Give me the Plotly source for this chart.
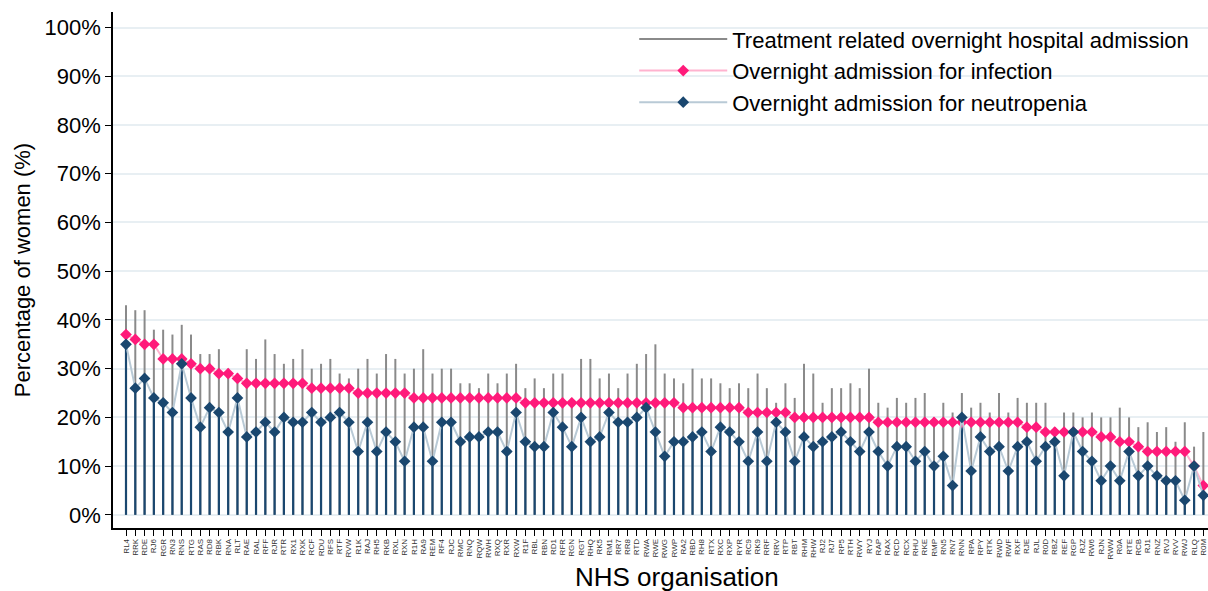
import plotly.graph_objects as go

organisations = [
    "RL4", "RRK", "RDE", "RJ6", "RGR", "RN3", "RNS", "RTG", "RAS", "RD8",
    "RBK", "RNA", "RLT", "RAE", "RAL", "RFF", "RJR", "RTR", "RX1", "RXK",
    "RCF", "RDU", "RFS", "RTF", "RVW", "R1K", "RAJ", "RH5", "RKB", "RXL",
    "RXN", "R1H", "RA9", "REM", "RF4", "RJC", "RMC", "RNQ", "RQW", "RWH",
    "RXQ", "RXR", "RXW", "R1F", "RBL", "RBN", "RD1", "RFR", "RGN", "RGT",
    "RHQ", "RK5", "RM1", "RR7", "RR8", "RTD", "RWA", "RWE", "RWG", "RWP",
    "RA2", "RBD", "RH8", "RTX", "RXC", "RXP", "RYR", "RC9", "RK9", "RRF",
    "RRV", "RTP", "RBT", "RHM", "RHW", "RJ2", "RJ7", "RP5", "RTH", "RWY",
    "RYJ", "RAP", "RAX", "RCD", "RCX", "RHU", "RKE", "RMP", "RN5", "RN7",
    "RNN", "RPA", "RPY", "RTK", "RWD", "RWF", "RXF", "RJE", "RJL", "R0D",
    "RBZ", "REF", "RGP", "RJZ", "RW6", "RJN", "RWW", "R0A", "RTE", "RCB",
    "RJ1", "RNZ", "RVJ", "RVV", "RWJ", "RLQ", "R0M",
]

treatment_admission = [
    43, 42, 42, 38, 38, 37, 39, 37, 33, 33,
    34, 30, 29, 34, 32, 36, 33, 31, 32, 34,
    30, 31, 32, 29, 28, 30, 32, 29, 33, 32,
    29, 30, 34, 29, 30, 30, 27, 27, 26, 29,
    27, 29, 31, 26, 28, 26, 29, 29, 24, 32,
    32, 28, 29, 26, 29, 31, 33, 35, 29, 28,
    27, 30, 28, 28, 27, 26, 27, 26, 29, 26,
    23, 27, 24, 31, 29, 23, 26, 26, 27, 26,
    30, 23, 22, 24, 23, 24, 25, 20, 23, 21,
    25, 22, 23, 21, 25, 21, 24, 23, 23, 23,
    18, 21, 21, 20, 21, 20, 20, 22, 20, 18,
    19, 17, 18, 15, 19, 14, 17,
]

infection_admission = [
    37, 36, 35, 35, 32, 32, 32, 31, 30, 30,
    29, 29, 28, 27, 27, 27, 27, 27, 27, 27,
    26, 26, 26, 26, 26, 25, 25, 25, 25, 25,
    25, 24, 24, 24, 24, 24, 24, 24, 24, 24,
    24, 24, 24, 23, 23, 23, 23, 23, 23, 23,
    23, 23, 23, 23, 23, 23, 23, 23, 23, 23,
    22, 22, 22, 22, 22, 22, 22, 21, 21, 21,
    21, 21, 20, 20, 20, 20, 20, 20, 20, 20,
    20, 19, 19, 19, 19, 19, 19, 19, 19, 19,
    19, 19, 19, 19, 19, 19, 19, 18, 18, 17,
    17, 17, 17, 17, 17, 16, 16, 15, 15, 14,
    13, 13, 13, 13, 13, 10, 6,
]

neutropenia_admission = [
    35, 26, 28, 24, 23, 21, 31, 24, 18, 22,
    21, 17, 24, 16, 17, 19, 17, 20, 19, 19,
    21, 19, 20, 21, 19, 13, 19, 13, 17, 15,
    11, 18, 18, 11, 19, 19, 15, 16, 16, 17,
    17, 13, 21, 15, 14, 14, 21, 18, 14, 20,
    15, 16, 21, 19, 19, 20, 22, 17, 12, 15,
    15, 16, 17, 13, 18, 17, 15, 11, 17, 11,
    19, 17, 11, 16, 14, 15, 16, 17, 15, 13,
    17, 13, 10, 14, 14, 11, 13, 10, 12, 6,
    20, 9, 16, 13, 14, 9, 14, 15, 11, 14,
    15, 8, 17, 13, 11, 7, 10, 7, 13, 8,
    10, 8, 7, 7, 3, 10, 4,
]

y_tick_values = list(range(0, 101, 10))
y_tick_labels = [f"{v}%" for v in y_tick_values]

FONT = "Liberation Sans, Arial, sans-serif"
GREY = "#8a8a8a"
NAVY = "#1a476f"
PINK = "#ff1a7a"
PINK_LINE = "#ffb3cf"
BLUE_LINE = "#b9cad6"


def stems(values):
    xs, ys = [], []
    for cat, v in zip(organisations, values):
        xs += [cat, cat, None]
        ys += [0, v, None]
    return xs, ys


fig = go.Figure()

gx, gy = stems(treatment_admission)
fig.add_trace(go.Scatter(
    x=gx, y=gy, mode="lines", line=dict(color=GREY, width=2),
    name="Treatment related overnight hospital admission",
    hoverinfo="skip",
))

bx, by = stems(neutropenia_admission)
fig.add_trace(go.Scatter(
    x=bx, y=by, mode="lines", line=dict(color=NAVY, width=2.2),
    showlegend=False, hoverinfo="skip",
))

fig.add_trace(go.Scatter(
    x=organisations, y=infection_admission, mode="lines+markers",
    line=dict(color=PINK_LINE, width=2),
    marker=dict(symbol="diamond", size=9, color=PINK),
    name="Overnight admission for infection",
))

fig.add_trace(go.Scatter(
    x=organisations, y=neutropenia_admission, mode="lines+markers",
    line=dict(color=BLUE_LINE, width=2),
    marker=dict(symbol="diamond", size=9, color=NAVY),
    name="Overnight admission for neutropenia",
))

fig.update_layout(
    width=1208, height=591,
    margin=dict(l=113, r=0, t=12, b=63),
    paper_bgcolor="white", plot_bgcolor="white",
    font=dict(family=FONT, size=22, color="#000000"),
    showlegend=True,
    legend=dict(
        x=0.476, y=0.988, xanchor="left", yanchor="top",
        bgcolor="rgba(255,255,255,0)", font=dict(size=22, color="#000000"),
        itemwidth=88,
    ),
    annotations=[dict(
        text="NHS organisation", xref="paper", yref="paper",
        x=0.515, y=-0.095, xanchor="center", yanchor="middle",
        showarrow=False, font=dict(size=26, color="#000000"),
    )],
)

fig.update_xaxes(
    type="category", categoryorder="array", categoryarray=organisations,
    tickmode="array", tickvals=organisations, ticktext=organisations,
    range=[-1.4, 116.5], automargin=False,
    showgrid=False, zeroline=False,
    showline=True, linecolor="#000000", linewidth=1.5,
    ticks="outside", ticklen=6, tickcolor="#000000", tickwidth=1,
    tickangle=-90, tickfont=dict(size=8, color="#333333"),
)

fig.update_yaxes(
    range=[-2.7, 103.2], automargin=False,
    tickvals=y_tick_values, ticktext=y_tick_labels,
    showgrid=True, gridcolor="#e8eff3", gridwidth=1.5,
    zeroline=False,
    showline=True, linecolor="#000000", linewidth=1.5,
    ticks="outside", ticklen=6, tickcolor="#000000", tickwidth=1,
    tickfont=dict(size=22),
    title=dict(text="Percentage of women (%)", font=dict(size=22), standoff=8),
)

fig.write_html(
    "out.html",
    config={"displayModeBar": False},
    post_script="document.body.style.margin='0px';document.body.style.overflow='hidden';",
)
